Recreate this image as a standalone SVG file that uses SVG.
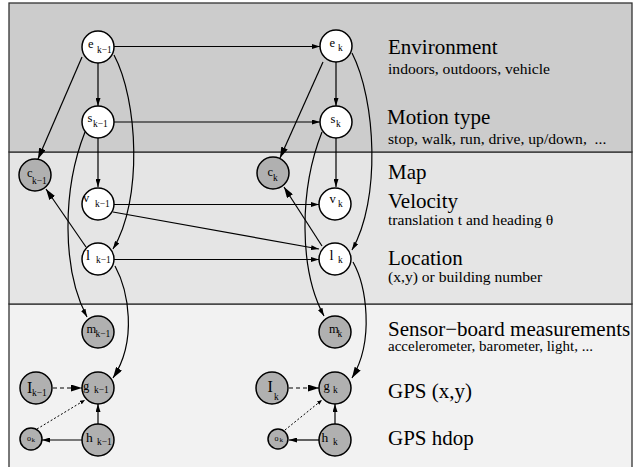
<svg xmlns="http://www.w3.org/2000/svg" width="633" height="467" viewBox="0 0 633 467">
<style>
.panel{stroke:#333;stroke-width:1.3}
.n circle{stroke:#000;stroke-width:1.5}
.w circle{fill:#fff}
.g circle{fill:#b0b0b0}
text{font-family:"Liberation Serif","Times New Roman",serif;fill:#000}
.m{font-size:12.5px}
.s{font-size:9.5px}
.big{font-size:21px}
.sm{font-size:15.6px}
.e{fill:none;stroke:#000;stroke-width:1.2}
.ea{marker-end:url(#a)}
.eb{marker-end:url(#b)}
.dash{stroke-dasharray:4 3}
.dot{stroke-dasharray:2 2;stroke-width:1}
</style>
<defs>
<marker id="a" viewBox="0 0 8 5" refX="8" refY="2.5" markerWidth="8" markerHeight="5" orient="auto" markerUnits="userSpaceOnUse" preserveAspectRatio="none"><path d="M0,0 L8,2.5 L0,5 z" fill="#000"/></marker>
<marker id="b" viewBox="0 0 11 7" refX="11" refY="3.5" markerWidth="11" markerHeight="7" orient="auto" markerUnits="userSpaceOnUse" preserveAspectRatio="none"><path d="M0,0 L11,3.5 L0,7 z" fill="#000"/></marker>
<marker id="c" viewBox="0 0 5 4" refX="5" refY="2" markerWidth="5" markerHeight="4" orient="auto" markerUnits="userSpaceOnUse" preserveAspectRatio="none"><path d="M0,0 L5,2 L0,4 z" fill="#000"/></marker>
</defs>
<g id="panels">
<rect class="panel" x="9" y="304" width="623" height="170" fill="#f2f2f2"/>
<rect class="panel" x="9" y="152" width="623" height="152" fill="#e5e5e5"/>
<rect class="panel" x="9" y="3" width="623" height="149" fill="#cccccc"/>
</g>
<g id="connectors">
<line class="e ea" x1="114" y1="46.5" x2="320" y2="46.5"/>
<line class="e ea" x1="114" y1="122" x2="320" y2="122"/>
<line class="e ea" x1="114" y1="204.5" x2="319" y2="204.5"/>
<line class="e ea" x1="113" y1="212" x2="319" y2="249"/>
<line class="e ea" x1="114" y1="259.5" x2="319" y2="259.5"/>
<line class="e ea" x1="98" y1="63" x2="98" y2="106"/>
<line class="e eb" x1="82" y1="57" x2="38" y2="159"/>
<path class="e ea" d="M114,55 C138,100 143,200 113,249"/>
<line class="e ea" x1="98" y1="138" x2="98" y2="187"/>
<path class="e ea" d="M85,132 C62,190 62,270 87,317"/>
<line class="e eb" x1="86" y1="247" x2="46" y2="189"/>
<path class="e eb" d="M115,266 C128,290 138,340 113,378"/>
<line class="e eb dash" x1="53" y1="388" x2="82" y2="388"/>
<line class="e dot" x1="37" y1="429" x2="85" y2="400" marker-end="url(#c)"/>
<line class="e ea" x1="82" y1="440" x2="42" y2="440"/>
<line class="e ea" x1="98" y1="424" x2="98" y2="404"/>
<line class="e ea" x1="336" y1="62" x2="336" y2="106"/>
<line class="e eb" x1="323" y1="62" x2="280" y2="158"/>
<path class="e ea" d="M352,53 C376,100 381,200 352,250"/>
<line class="e ea" x1="336" y1="138" x2="336" y2="187"/>
<path class="e ea" d="M322,132 C299,190 299,270 324,316"/>
<line class="e eb" x1="322" y1="246" x2="284" y2="187"/>
<path class="e eb" d="M353,262 C366,285 375,340 352,378"/>
<line class="e eb dash" x1="289" y1="388" x2="319" y2="388"/>
<line class="e dot" x1="285" y1="430" x2="322" y2="400" marker-end="url(#c)"/>
<line class="e ea" x1="319" y1="440" x2="289" y2="440"/>
<line class="e ea" x1="335" y1="424" x2="335" y2="404"/>
</g>
<g id="e_km1" class="n w"><circle cx="98" cy="47" r="16"/><text class="m" x="88" y="48">e</text><text class="s" x="97" y="53">k−1</text></g>
<g id="s_km1" class="n w"><circle cx="98" cy="122" r="16"/><text class="m" x="87.5" y="122">s</text><text class="s" x="93" y="126.5">k−1</text></g>
<g id="c_km1" class="n g"><circle cx="35" cy="175" r="16"/><text class="m" x="27" y="177">c</text><text class="s" x="32" y="184">k−1</text></g>
<g id="v_km1" class="n w"><circle cx="98" cy="204" r="16"/><text class="m" x="83" y="202">v</text><text class="s" x="95" y="207">k−1</text></g>
<g id="l_km1" class="n w"><circle cx="98" cy="259" r="16"/><text x="86" y="260" style="font-size:14.5px">l</text><text class="s" x="96" y="263">k−1</text></g>
<g id="m_km1" class="n g"><circle cx="98" cy="332" r="16"/><text class="m" x="86.5" y="333">m</text><text class="s" x="95.5" y="337">k−1</text></g>
<g id="I_km1" class="n g"><circle cx="36" cy="388" r="16"/><text x="27" y="392.5" style="font-size:16px">I</text><text class="s" x="32" y="396">k−1</text></g>
<g id="g_km1" class="n g"><circle cx="98" cy="388" r="16"/><text class="m" x="83" y="390">g</text><text class="s" x="94" y="392.5">k−1</text></g>
<g id="h_km1" class="n g"><circle cx="98" cy="440" r="16"/><text x="86" y="442" style="font-size:13.5px">h</text><text class="s" x="97" y="445">k−1</text></g>
<g id="o_left" class="n g"><circle cx="31" cy="439" r="11"/><text x="27" y="441" style="font-size:8px">o</text><text x="31.5" y="441.5" style="font-size:7px">k</text></g>
<g id="e_k" class="n w"><circle cx="336" cy="46" r="16"/><text class="m" x="329.5" y="47">e</text><text class="s" x="338" y="51">k</text></g>
<g id="s_k" class="n w"><circle cx="336" cy="122" r="16"/><text class="m" x="330.5" y="122.5">s</text><text class="s" x="336" y="126.5">k</text></g>
<g id="c_k" class="n g"><circle cx="273" cy="173" r="16"/><text class="m" x="267.5" y="176">c</text><text class="s" x="273" y="180.5">k</text></g>
<g id="v_k" class="n w"><circle cx="335" cy="204" r="16"/><text class="m" x="329.5" y="203">v</text><text class="s" x="338" y="207">k</text></g>
<g id="l_k" class="n w"><circle cx="335" cy="259" r="16"/><text x="329.5" y="260" style="font-size:14.5px">l</text><text class="s" x="338" y="262.5">k</text></g>
<g id="m_k" class="n g"><circle cx="335" cy="332" r="16"/><text class="m" x="329" y="333">m</text><text class="s" x="337.5" y="337">k</text></g>
<g id="I_k" class="n g"><circle cx="272" cy="388" r="16"/><text x="267.5" y="391.5" style="font-size:16px">I</text><text class="s" x="274" y="400">k</text></g>
<g id="g_k" class="n g"><circle cx="335" cy="388" r="16"/><text class="m" x="323.5" y="390">g</text><text class="s" x="333" y="392.5">k</text></g>
<g id="h_k" class="n g"><circle cx="335" cy="440" r="16"/><text x="321.5" y="442" style="font-size:13.5px">h</text><text class="s" x="333" y="445">k</text></g>
<g id="o_right" class="n g"><circle cx="278" cy="439" r="10"/><text x="274.5" y="441" style="font-size:8px">o</text><text x="279.5" y="441.5" style="font-size:7px">k</text></g>
<g id="labels">
<text class="big" x="388" y="54">Environment</text>
<text class="sm" x="388" y="74">indoors, outdoors, vehicle</text>
<text class="big" x="387" y="124">Motion type</text>
<text class="sm" x="388" y="144" xml:space="preserve">stop, walk, run, drive, up/down,  ...</text>
<text class="big" x="388" y="179">Map</text>
<text class="big" x="388" y="208">Velocity</text>
<text class="sm" x="388" y="225">translation t and heading  θ</text>
<text class="big" x="388" y="265">Location</text>
<text class="sm" x="388" y="282">(x,y) or building number</text>
<text class="big" x="388" y="335.5">Sensor−board measurements</text>
<text class="sm" x="388" y="350.5" style="font-size:15px">accelerometer, barometer, light, ...</text>
<text class="big" x="388" y="398">GPS (x,y)</text>
<text class="big" x="388" y="445">GPS hdop</text>
</g>
</svg>
